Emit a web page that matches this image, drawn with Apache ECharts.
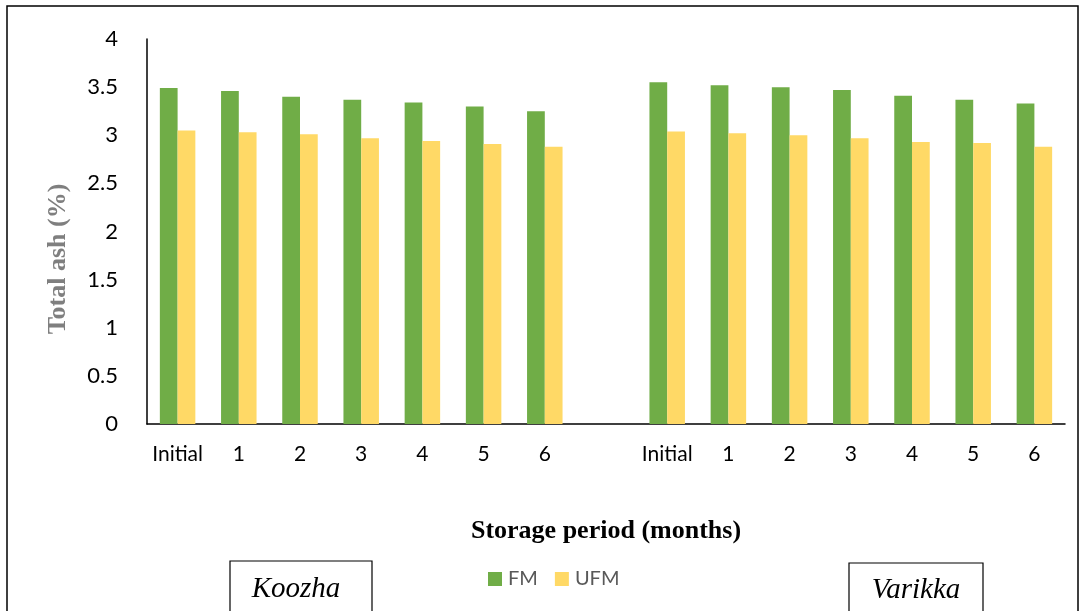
<!DOCTYPE html>
<html><head><meta charset="utf-8">
<script src="https://cdn.jsdelivr.net/npm/echarts@6/dist/echarts.min.js"></script>
<style>html,body{margin:0;padding:0;background:#fff}#c{width:1081px;height:611px}</style>
</head><body><div id="c"></div>
<script>
const categories = ['Initial','1','2','3','4','5','6','','Initial','1','2','3','4','5','6'];
const fmValues  = [3.49,3.46,3.40,3.37,3.34,3.30,3.25,null,3.55,3.52,3.50,3.47,3.41,3.37,3.33];
const ufmValues = [3.05,3.03,3.01,2.97,2.94,2.91,2.88,null,3.04,3.02,3.00,2.97,2.93,2.92,2.88];
const yTicks = {min:0,max:4,interval:0.5};

const chart = echarts.init(document.getElementById('c'), null, {renderer:'canvas'});
chart.setOption({
  animation:false,
  backgroundColor:'#fff',
  grid:{left:147,right:16,top:39,bottom:187,containLabel:false},
  legend:{left:483,top:564,itemWidth:14,itemHeight:14,itemGap:17,icon:'rect',
    textStyle:{fontFamily:'Lato',fontSize:20,color:'#595959',padding:[0,0,0,1]},
    data:['FM','UFM']},
  xAxis:{type:'category',data:categories,
    axisLine:{lineStyle:{color:'#000',width:1.5}},axisTick:{show:false},
    axisLabel:{interval:0,fontFamily:'Lato',fontSize:21,color:'#000',margin:20},
    name:'Storage period (months)',nameLocation:'middle',nameGap:94,
    nameTextStyle:{fontFamily:'Liberation Serif',fontWeight:'bold',fontSize:26,color:'#000'}},
  yAxis:{type:'value',min:yTicks.min,max:yTicks.max,interval:yTicks.interval,
    axisLine:{show:true,lineStyle:{color:'#000',width:1.5}},axisTick:{show:false},
    splitLine:{show:false},
    axisLabel:{fontFamily:'Lato',fontSize:22,color:'#000',margin:29}},
  series:[
    {name:'FM',type:'bar',data:fmValues,itemStyle:{color:'#70AD47'},barGap:'0%',barCategoryGap:'42%'},
    {name:'UFM',type:'bar',data:ufmValues,itemStyle:{color:'#FFD966'},barGap:'0%',barCategoryGap:'42%'}
  ],
  graphic:[
    {type:'rect',shape:{x:7,y:6,width:1071,height:620},style:{fill:'none',stroke:'#000',lineWidth:1.5},silent:true},
    {type:'text',x:58,y:259,rotation:Math.PI/2,style:{text:'Total ash (%)',fontFamily:'Liberation Serif',fontWeight:'bold',fontSize:26,fill:'#7f7f7f',align:'center',verticalAlign:'middle'}},
    {type:'rect',shape:{x:230,y:561,width:142,height:70},style:{fill:'#fff',stroke:'#000',lineWidth:1.2}},
    {type:'text',x:296,y:589,style:{text:'Koozha',fontFamily:'Liberation Serif',fontStyle:'italic',fontSize:29,fill:'#000',align:'center',verticalAlign:'middle'}},
    {type:'rect',shape:{x:849,y:563,width:134,height:70},style:{fill:'#fff',stroke:'#000',lineWidth:1.2}},
    {type:'text',x:916,y:590,style:{text:'Varikka',fontFamily:'Liberation Serif',fontStyle:'italic',fontSize:29,fill:'#000',align:'center',verticalAlign:'middle'}}
  ]
});
</script></body></html>
